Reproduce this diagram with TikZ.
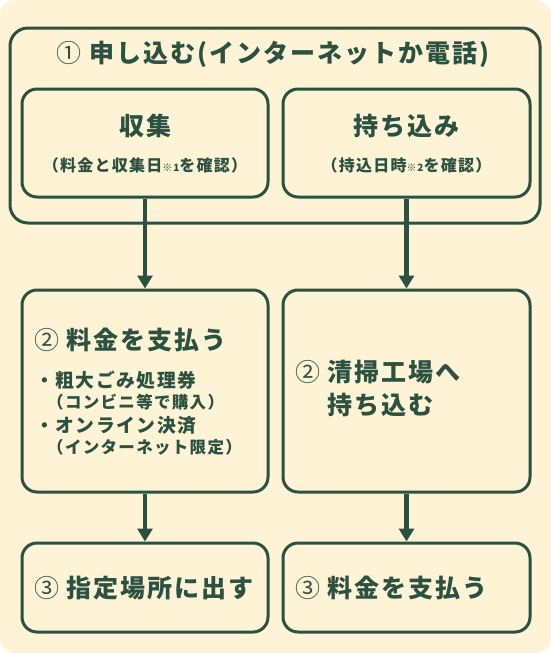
\documentclass[tikz,border=0pt]{standalone}
\usepackage{fontspec}
\setmainfont{Noto Sans CJK JP}[LetterSpace=8]
\usetikzlibrary{arrows.meta}
\definecolor{bg}{HTML}{FEF3D4}
\definecolor{ink}{HTML}{2B5141}
\begin{document}
\begin{tikzpicture}[x=1pt,y=-1pt,
  box/.style={draw=ink, line width=3pt, rounded corners=15pt, rectangle, inner sep=0pt},
  outerbox/.style={draw=ink, line width=3pt, rounded corners=18pt, rectangle, inner sep=0pt},
  arr/.style={draw=ink, line width=4.5pt, -{Triangle[length=13pt,width=15pt]}},
  txt/.style={text=ink, inner sep=0pt, font=\bfseries},
  big/.style={txt, font=\bfseries\fontsize{25}{30}\selectfont},
  mid/.style={txt, font=\bfseries\fontsize{18.8}{23}\selectfont},
  sml/.style={txt, font=\bfseries\fontsize{16.5}{20}\selectfont},
  sub/.style={txt, font=\bfseries\fontsize{16}{19}\selectfont}]
\fill[white] (0,0) rectangle (551,653);
\fill[bg, rounded corners=15pt] (0,0) rectangle (551,653);
\useasboundingbox (0,0) rectangle (551,653);
% boxes
\node[outerbox, minimum width=530pt, minimum height=195pt] (outer) at (275,125.5) {};
\node[box, minimum width=246pt, minimum height=108pt] (inL) at (145,143) {};
\node[box, minimum width=247pt, minimum height=108pt] (inR) at (406.5,143) {};
\node[box, minimum width=246pt, minimum height=202pt] (payL) at (145,391) {};
\node[box, minimum width=247pt, minimum height=202pt] (bringR) at (406.5,391) {};
\node[box, minimum width=246pt, minimum height=89pt] (putL) at (145,587.5) {};
\node[box, minimum width=247pt, minimum height=89pt] (payR) at (406.5,587.5) {};
% arrows
\draw[arr] (inL.south) -- (payL.north);
\draw[arr] (inR.south) -- (bringR.north);
\draw[arr] (payL.south) -- (putL.north);
\draw[arr] (bringR.south) -- (payR.north);
% texts
\node[big] (title) at (273,54) {{\mdseries ①} 申し込む(インターネットか電話)};
\node[big] (shu) at (145,126) {収集};
\node[sub] (shusub) at (145,165) {（料金と収集日{\fontsize{10}{12}\selectfont ※1}を確認）};
\node[big] (mochi) at (406.5,126) {持ち込み};
\node[sub] (mochisub) at (406.5,165) {（持込日時{\fontsize{10}{12}\selectfont ※2}を確認）};
\node[big, anchor=west] (payLt) at (34,340) {{\mdseries ②} 料金を支払う};
\node[mid, anchor=west] (b1) at (35,380) {・粗大ごみ処理券};
\node[sml, anchor=west] (b1s) at (47,402) {（コンビニ等で購入）};
\node[mid, anchor=west] (b2) at (35,425) {・オンライン決済};
\node[sml, anchor=west] (b2s) at (47,447) {（インターネット限定）};
\node[big, anchor=west] (bringt1) at (295,372) {{\mdseries ②} 清掃工場へ};
\node[big, anchor=west] (bringt2) at (327,405) {持ち込む};
\node[big, anchor=west] (putt) at (34,588) {{\mdseries ③} 指定場所に出す};
\node[big, anchor=west] (payRt) at (295,588) {{\mdseries ③} 料金を支払う};
\end{tikzpicture}
\end{document}
